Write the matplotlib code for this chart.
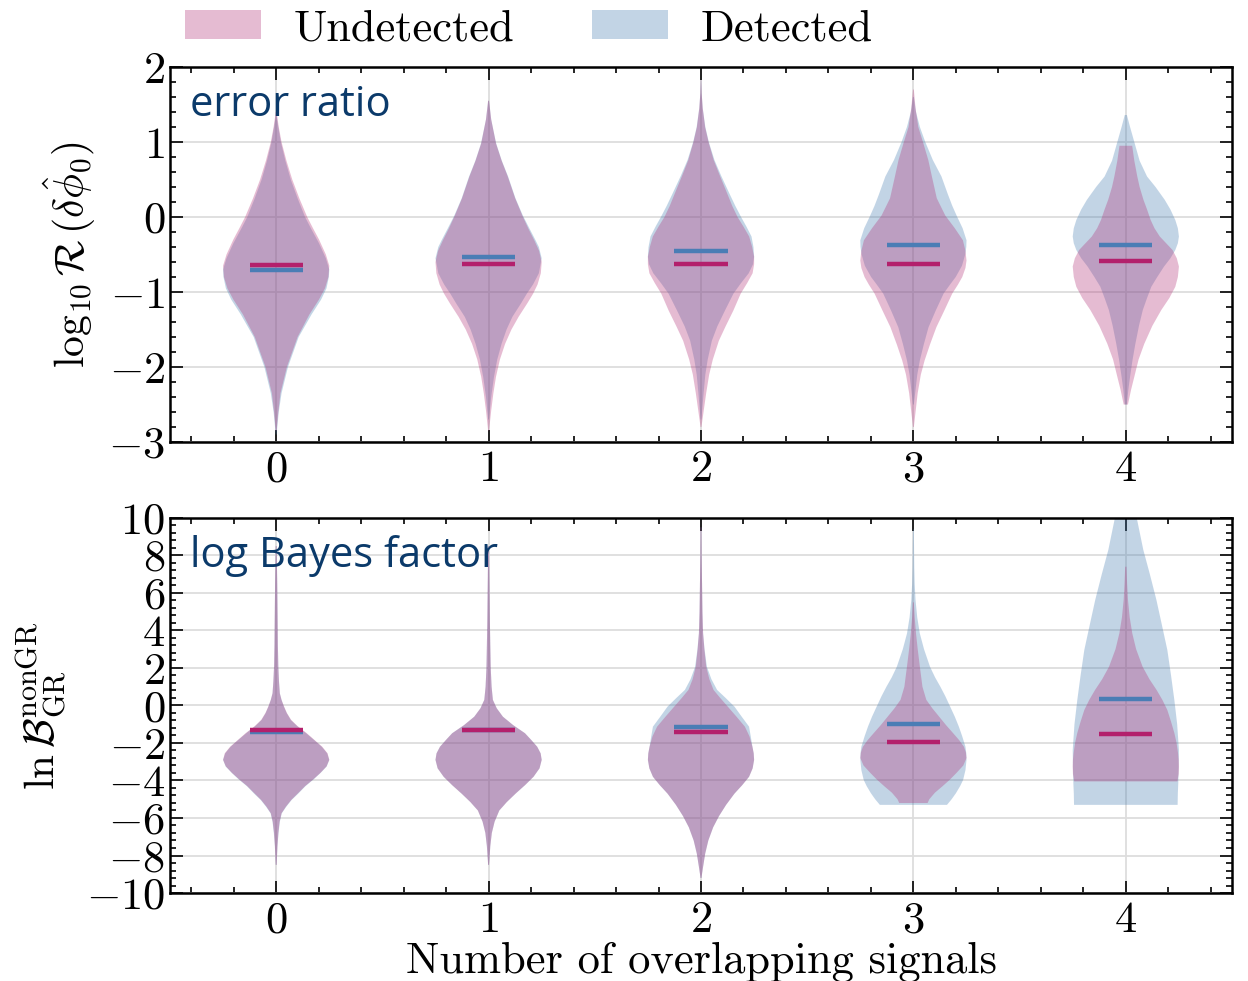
import numpy as np
import matplotlib
matplotlib.use("Agg")
import matplotlib.pyplot as plt
from matplotlib.patches import Patch
from matplotlib.ticker import MultipleLocator

plt.rcParams["mathtext.fontset"] = "cm"
plt.rcParams["font.family"] = "serif"
plt.rcParams["font.serif"] = ["cmr10", "DejaVu Serif"]
plt.rcParams["axes.formatter.use_mathtext"] = True
plt.rcParams["axes.unicode_minus"] = True

PINK = "#b12e75"
BLUE = "#447cb1"
PINK_LINE = "#b3206c"
BLUE_LINE = "#4a7db5"
ALPHA = 0.32
TEXT_BLUE = "#0b3a6a"

positions = [0, 1, 2, 3, 4]

# ---- top panel: log10 error ratio -------------------------------------
# each violin: y levels and relative half-widths
ratio_und_y = [
    [-2.85, -2.6, -2.35, -2.0, -1.6, -1.3, -1.1, -0.95, -0.8, -0.65, -0.5, -0.3, -0.15, 0.0, 0.25, 0.5, 0.75, 1.0, 1.2, 1.4],
    [-2.85, -2.58, -2.35, -2.13, -1.9, -1.69, -1.5, -1.33, -1.15, -1.02, -0.9, -0.75, -0.6, -0.45, -0.31, -0.15, 0.02, 0.25, 0.54, 0.75, 0.98, 1.3, 1.55],
    [-2.8, -2.35, -2.1, -1.9, -1.65, -1.46, -1.25, -1.02, -0.88, -0.75, -0.63, -0.53, -0.4, -0.26, -0.13, 0.0, 0.15, 0.32, 0.55, 0.76, 1.0, 1.2, 1.45, 1.65, 1.83],
    [-2.8, -2.35, -2.1, -1.91, -1.7, -1.47, -1.25, -1.02, -0.9, -0.8, -0.68, -0.58, -0.45, -0.31, -0.15, 0.02, 0.25, 0.54, 0.76, 1.0, 1.2, 1.45, 1.7],
    [-2.5, -2.3, -2.13, -1.9, -1.69, -1.45, -1.24, -1.08, -0.93, -0.8, -0.66, -0.55, -0.44, -0.35, -0.26, -0.15, -0.04, 0.1, 0.23, 0.4, 0.54, 0.75, 0.95],
]
ratio_und_w = [
    [0.002, 0.01, 0.02, 0.05, 0.1, 0.155, 0.2, 0.228, 0.244, 0.248, 0.232, 0.2, 0.172, 0.145, 0.108, 0.075, 0.048, 0.025, 0.012, 0.002],
    [0.002, 0.012, 0.022, 0.034, 0.052, 0.076, 0.105, 0.138, 0.178, 0.205, 0.225, 0.24, 0.244, 0.232, 0.21, 0.182, 0.155, 0.122, 0.088, 0.06, 0.034, 0.012, 0.002],
    [0.002, 0.024, 0.038, 0.055, 0.083, 0.114, 0.15, 0.185, 0.215, 0.24, 0.247, 0.247, 0.238, 0.224, 0.198, 0.17, 0.145, 0.121, 0.088, 0.059, 0.035, 0.019, 0.008, 0.003, 0.001],
    [0.002, 0.02, 0.035, 0.053, 0.078, 0.108, 0.145, 0.183, 0.21, 0.23, 0.245, 0.25, 0.245, 0.233, 0.195, 0.15, 0.11, 0.087, 0.07, 0.045, 0.023, 0.01, 0.002],
    [0.01, 0.025, 0.04, 0.06, 0.087, 0.125, 0.167, 0.205, 0.233, 0.245, 0.25, 0.24, 0.22, 0.19, 0.16, 0.135, 0.117, 0.1, 0.083, 0.065, 0.054, 0.04, 0.03],
]
ratio_det_y = [
    [-2.9, -2.6, -2.35, -2.0, -1.6, -1.3, -1.1, -0.95, -0.8, -0.7, -0.55, -0.35, -0.15, 0.0, 0.25, 0.5, 0.75, 1.0, 1.2, 1.35],
    [-2.7, -2.4, -2.13, -1.9, -1.69, -1.5, -1.33, -1.15, -1.02, -0.9, -0.75, -0.55, -0.4, -0.3, -0.15, 0.02, 0.25, 0.54, 0.75, 0.98, 1.3, 1.55],
    [-2.7, -2.35, -2.1, -1.9, -1.65, -1.46, -1.25, -1.02, -0.88, -0.75, -0.63, -0.53, -0.4, -0.26, -0.13, 0.0, 0.15, 0.32, 0.55, 0.76, 1.0, 1.2, 1.45, 1.65, 1.83],
    [-2.5, -2.35, -2.1, -1.91, -1.7, -1.47, -1.25, -1.02, -0.9, -0.8, -0.65, -0.5, -0.4, -0.31, -0.15, 0.02, 0.15, 0.3, 0.54, 0.76, 1.0, 1.2, 1.4, 1.6],
    [-2.5, -2.3, -2.13, -1.9, -1.69, -1.45, -1.24, -1.08, -0.93, -0.8, -0.66, -0.55, -0.44, -0.35, -0.26, -0.15, -0.04, 0.1, 0.23, 0.4, 0.54, 0.75, 0.98, 1.2, 1.36],
]
ratio_det_w = [
    [0.002, 0.012, 0.025, 0.055, 0.105, 0.165, 0.21, 0.235, 0.246, 0.248, 0.232, 0.2, 0.162, 0.135, 0.1, 0.068, 0.043, 0.022, 0.01, 0.002],
    [0.002, 0.012, 0.025, 0.04, 0.06, 0.083, 0.11, 0.15, 0.177, 0.205, 0.232, 0.245, 0.232, 0.215, 0.188, 0.158, 0.124, 0.09, 0.061, 0.035, 0.012, 0.002],
    [0.002, 0.012, 0.02, 0.031, 0.05, 0.075, 0.11, 0.15, 0.185, 0.22, 0.24, 0.245, 0.242, 0.233, 0.21, 0.185, 0.158, 0.13, 0.093, 0.062, 0.036, 0.02, 0.008, 0.003, 0.001],
    [0.002, 0.008, 0.018, 0.03, 0.048, 0.07, 0.103, 0.14, 0.17, 0.196, 0.225, 0.24, 0.245, 0.246, 0.228, 0.2, 0.18, 0.16, 0.13, 0.09, 0.055, 0.03, 0.012, 0.002],
    [0.005, 0.012, 0.02, 0.032, 0.045, 0.062, 0.08, 0.1, 0.12, 0.148, 0.18, 0.21, 0.233, 0.245, 0.25, 0.245, 0.233, 0.21, 0.183, 0.14, 0.1, 0.065, 0.042, 0.02, 0.005],
]
ratio_und_mean = [-0.64, -0.63, -0.63, -0.63, -0.58]
ratio_det_mean = [-0.71, -0.53, -0.45, -0.37, -0.37]

# ---- bottom panel: log Bayes factor ------------------------------------
bf_und_y = [
    [-8.5, -7.5, -6.8, -6.2, -5.75, -5.4, -5.04, -4.7, -4.3, -3.95, -3.6, -3.25, -2.9, -2.55, -2.2, -1.85, -1.48, -1.1, -0.77, -0.4, -0.06, 0.3, 0.65, 1.3, 2.07, 3.2, 4.5, 6.5, 8.5],
    [-8.5, -7.5, -6.8, -6.2, -5.6, -5.15, -4.7, -4.25, -3.8, -3.35, -2.9, -2.55, -2.2, -1.85, -1.48, -1.05, -0.6, -0.15, 0.3, 1.0, 2.0, 3.2, 4.5, 6.5, 8.5],
    [-9.2, -8.6, -7.9, -7.2, -6.5, -5.9, -5.3, -4.7, -4.25, -3.8, -3.35, -2.9, -2.55, -2.2, -1.65, -1.13, -0.6, -0.06, 0.4, 0.83, 1.4, 2.07, 3.0, 3.85, 5.0, 6.5, 8.0, 9.5],
    [-5.2, -5.0, -4.65, -4.3, -3.95, -3.6, -3.2, -2.8, -2.5, -2.2, -1.85, -1.48, -1.05, -0.6, -0.15, 0.3, 1.0, 2.07, 3.0, 3.85, 4.7, 5.5],
    [-4.05, -3.65, -3.26, -2.9, -2.55, -2.0, -1.48, -0.85, -0.24, 0.3, 0.83, 1.4, 2.07, 3.0, 3.85, 4.7, 5.63, 6.5, 7.4],
]
bf_und_w = [
    [0.002, 0.006, 0.01, 0.016, 0.025, 0.045, 0.07, 0.1, 0.135, 0.172, 0.206, 0.235, 0.248, 0.24, 0.215, 0.18, 0.143, 0.1, 0.07, 0.05, 0.037, 0.025, 0.017, 0.013, 0.01, 0.008, 0.007, 0.005, 0.002],
    [0.002, 0.008, 0.015, 0.028, 0.05, 0.085, 0.126, 0.17, 0.21, 0.238, 0.248, 0.243, 0.227, 0.2, 0.17, 0.115, 0.067, 0.038, 0.02, 0.014, 0.01, 0.008, 0.006, 0.004, 0.002],
    [0.002, 0.01, 0.02, 0.035, 0.058, 0.086, 0.12, 0.16, 0.197, 0.23, 0.247, 0.254, 0.252, 0.246, 0.232, 0.21, 0.17, 0.128, 0.092, 0.06, 0.04, 0.025, 0.016, 0.01, 0.007, 0.005, 0.003, 0.002],
    [0.066, 0.074, 0.1, 0.136, 0.17, 0.2, 0.232, 0.247, 0.244, 0.235, 0.213, 0.185, 0.152, 0.12, 0.088, 0.06, 0.042, 0.03, 0.02, 0.012, 0.006, 0.002],
    [0.24, 0.246, 0.247, 0.246, 0.243, 0.236, 0.226, 0.21, 0.193, 0.17, 0.143, 0.11, 0.078, 0.048, 0.03, 0.018, 0.01, 0.006, 0.003],
]
bf_det_y = [
    [-8.5, -7.5, -6.8, -6.2, -5.75, -5.4, -5.04, -4.7, -4.3, -3.95, -3.6, -3.25, -2.9, -2.55, -2.2, -1.85, -1.48, -1.1, -0.77, -0.4, -0.06, 0.3, 0.65, 1.3, 2.07, 3.2, 4.5, 6.5, 8.5],
    [-8.5, -7.5, -6.8, -6.2, -5.6, -5.15, -4.7, -4.25, -3.8, -3.35, -2.9, -2.55, -2.2, -1.85, -1.48, -1.05, -0.6, -0.15, 0.3, 1.0, 2.0, 3.2, 4.5, 6.5, 8.5],
    [-9.2, -8.6, -7.9, -7.2, -6.5, -5.9, -5.3, -4.7, -4.25, -3.8, -3.35, -2.9, -2.55, -2.2, -1.65, -1.13, -0.6, -0.06, 0.4, 0.83, 1.4, 2.07, 3.0, 3.85, 5.0, 6.5, 8.0, 9.5],
    [-5.3, -5.0, -4.68, -4.3, -3.97, -3.45, -2.9, -2.55, -2.2, -1.65, -1.13, -0.6, -0.06, 0.5, 1.0, 1.5, 2.07, 3.0, 3.85, 4.7, 5.63, 6.5, 7.41, 9.4],
    [-5.3, -4.7, -4.15, -3.3, -2.37, -1.0, 0.3, 1.6, 2.96, 4.3, 5.63, 7.0, 8.3, 10.0, 11.5],
]
bf_det_w = [
    [0.002, 0.006, 0.011, 0.017, 0.026, 0.047, 0.072, 0.103, 0.137, 0.174, 0.207, 0.236, 0.248, 0.238, 0.213, 0.178, 0.14, 0.098, 0.068, 0.049, 0.036, 0.025, 0.017, 0.013, 0.01, 0.008, 0.007, 0.005, 0.002],
    [0.002, 0.008, 0.015, 0.028, 0.05, 0.085, 0.126, 0.17, 0.21, 0.238, 0.248, 0.243, 0.227, 0.2, 0.17, 0.115, 0.067, 0.038, 0.02, 0.014, 0.01, 0.008, 0.006, 0.004, 0.002],
    [0.002, 0.01, 0.02, 0.035, 0.058, 0.086, 0.12, 0.16, 0.197, 0.23, 0.247, 0.254, 0.252, 0.246, 0.238, 0.23, 0.195, 0.16, 0.118, 0.077, 0.05, 0.028, 0.017, 0.01, 0.007, 0.005, 0.003, 0.002],
    [0.158, 0.18, 0.2, 0.22, 0.234, 0.245, 0.25, 0.249, 0.245, 0.23, 0.214, 0.195, 0.173, 0.15, 0.127, 0.102, 0.078, 0.05, 0.03, 0.018, 0.01, 0.006, 0.004, 0.002],
    [0.237, 0.238, 0.24, 0.242, 0.243, 0.235, 0.222, 0.207, 0.19, 0.165, 0.14, 0.11, 0.08, 0.05, 0.03],
]
bf_und_mean = [-1.31, -1.31, -1.4, -1.93, -1.52]
bf_det_mean = [-1.4, -1.31, -1.13, -1.0, 0.33]


def make_stats(ys, ws, means):
    stats = []
    for y, w, m in zip(ys, ws, means):
        y = np.asarray(y, dtype=float)
        stats.append(dict(coords=y, vals=np.asarray(w, dtype=float),
                          mean=m, median=m, min=y.min(), max=y.max()))
    return stats


def draw_violins(ax, ys, ws, means, color, line_color):
    parts = ax.violin(make_stats(ys, ws, means), positions=positions, widths=0.5,
                      showmeans=True, showextrema=False)
    for body in parts["bodies"]:
        body.set_facecolor(color)
        body.set_edgecolor("none")
        body.set_alpha(ALPHA)
    parts["cmeans"].set_color(line_color)
    parts["cmeans"].set_linewidth(3.2)
    parts["cmeans"].set_zorder(4)


def style_axes(ax):
    ax.set_xlim(-0.5, 4.5)
    ax.set_xticks(positions)
    ax.xaxis.set_minor_locator(MultipleLocator(0.2))
    ax.tick_params(which="both", direction="in", top=True, right=True,
                   labelsize=32, width=1.2)
    ax.tick_params(which="major", length=9)
    ax.tick_params(which="minor", length=4.5)
    ax.tick_params(axis="x", which="major", pad=6)
    for sp in ax.spines.values():
        sp.set_linewidth(1.8)
    ax.grid(True, which="major", color="#dddddd", linewidth=1.3)
    ax.set_axisbelow(True)


fig = plt.figure(figsize=(12.48, 9.81), dpi=100)
ax1 = fig.add_axes([0.1362, 0.5494, 0.851, 0.3823])
ax2 = fig.add_axes([0.1362, 0.0897, 0.851, 0.3823])

draw_violins(ax1, ratio_det_y, ratio_det_w, ratio_det_mean, BLUE, BLUE_LINE)
draw_violins(ax1, ratio_und_y, ratio_und_w, ratio_und_mean, PINK, PINK_LINE)
draw_violins(ax2, bf_det_y, bf_det_w, bf_det_mean, BLUE, BLUE_LINE)
draw_violins(ax2, bf_und_y, bf_und_w, bf_und_mean, PINK, PINK_LINE)

style_axes(ax1)
ax1.set_ylim(-3, 2)
ax1.yaxis.set_major_locator(MultipleLocator(1))
ax1.yaxis.set_minor_locator(MultipleLocator(0.2))
ax1.set_ylabel(r"$\log_{10}\mathcal{R}\,(\delta\hat{\phi}_0)$", fontsize=30)
ax1.yaxis.set_label_coords(-0.068, 0.5)
ax1.text(0.019, 0.955, "error ratio", transform=ax1.transAxes, ha="left", va="top",
         fontsize=30, family="Open Sans", color=TEXT_BLUE)

style_axes(ax2)
ax2.set_ylim(-10, 10)
ax2.yaxis.set_major_locator(MultipleLocator(2))
ax2.yaxis.set_minor_locator(MultipleLocator(0.4))
ax2.set_ylabel(r"$\ln\mathcal{B}^{\rm nonGR}_{\rm GR}$", fontsize=31)
ax2.yaxis.set_label_coords(-0.095, 0.5)
ax2.set_xlabel("Number of overlapping signals", fontsize=32)
ax2.xaxis.set_label_coords(0.5, -0.13)
ax2.text(0.019, 0.955, "log Bayes factor", transform=ax2.transAxes, ha="left", va="top",
         fontsize=30, family="Open Sans", color=TEXT_BLUE)

handles = [Patch(facecolor=PINK, alpha=ALPHA, edgecolor="none", label="Undetected"),
           Patch(facecolor=BLUE, alpha=ALPHA, edgecolor="none", label="Detected")]
fig.legend(handles=handles, loc="upper left", bbox_to_anchor=(0.127, 1.018), ncol=2,
           frameon=False, fontsize=32, handlelength=1.7, handleheight=0.63,
           handletextpad=0.74, columnspacing=1.75, borderpad=0.1)

fig.savefig("out.png", dpi=100)
